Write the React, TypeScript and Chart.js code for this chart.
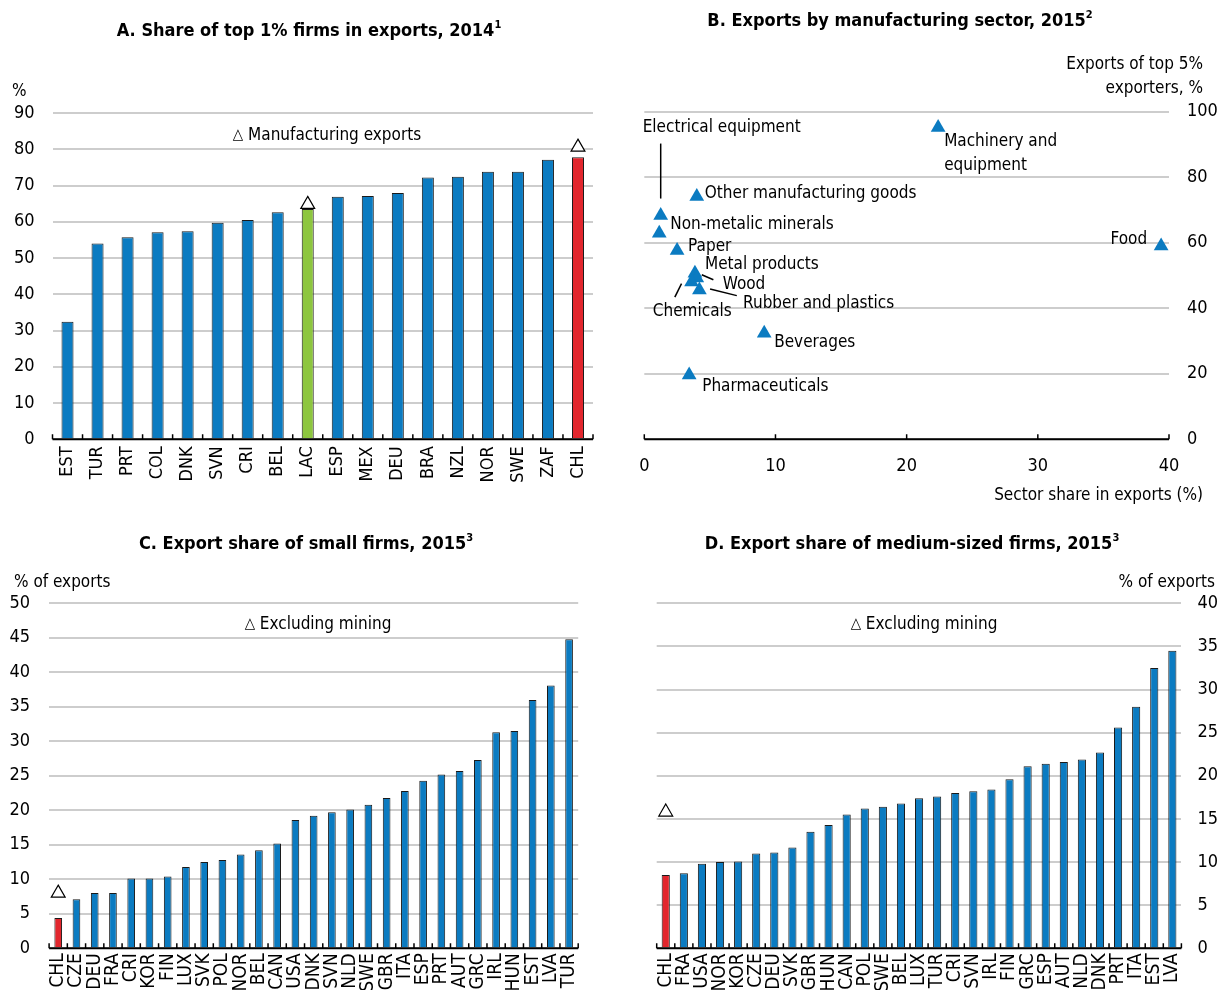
import React, { useEffect, useRef } from "react";
import { Chart, registerables } from "chart.js";

Chart.register(...registerables);

const FONT =
  "'Liberation Sans Narrow', 'Arial Narrow', 'DejaVu Sans Condensed', 'Liberation Sans', Arial, sans-serif";

const BLUE = "#0B7BC1";
const RED = "#E2262D";
const GREEN = "#8DC63F";
const GRID = "#cdcdcd";

// A. Share of top 1% firms in exports, 2014
const countriesA = ["EST", "TUR", "PRT", "COL", "DNK", "SVN", "CRI", "BEL", "LAC", "ESP", "MEX", "DEU", "BRA", "NZL", "NOR", "SWE", "ZAF", "CHL"];
const top1ShareA = [32.4, 54.0, 55.7, 57.1, 57.4, 59.7, 60.5, 62.6, 63.5, 66.9, 67.1, 67.9, 72.2, 72.4, 73.8, 73.8, 77.1, 77.8];
const manufTop1A: (number | null)[] = [null, null, null, null, null, null, null, null, 64.8, null, null, null, null, null, null, null, null, 80.6];

// B. Exports by manufacturing sector, 2015
const sectorsB = [
  "Machinery and equipment",
  "Electrical equipment",
  "Other manufacturing goods",
  "Non-metalic minerals",
  "Paper",
  "Metal products",
  "Wood",
  "Chemicals",
  "Rubber and plastics",
  "Beverages",
  "Pharmaceuticals",
  "Food",
];
const sectorShareB = [22.4, 1.25, 4.0, 1.14, 2.5, 3.86, 4.0, 3.6, 4.2, 9.14, 3.42, 39.4];
const top5ShareB = [95.2, 68.3, 74.1, 62.9, 57.6, 50.7, 49.2, 48.0, 45.6, 32.4, 19.6, 59.0];

// C. Export share of small firms, 2015
const countriesC = ["CHL", "CZE", "DEU", "FRA", "CRI", "KOR", "FIN", "LUX", "SVK", "POL", "NOR", "BEL", "CAN", "USA", "DNK", "SVN", "NLD", "SWE", "GBR", "ITA", "ESP", "PRT", "AUT", "GRC", "IRL", "HUN", "EST", "LVA", "TUR"];
const smallShareC = [4.4, 7.1, 8.0, 8.0, 10.1, 10.1, 10.4, 11.8, 12.5, 12.8, 13.6, 14.2, 15.2, 18.6, 19.2, 19.7, 20.1, 20.8, 21.8, 22.8, 24.3, 25.2, 25.7, 27.3, 31.3, 31.5, 36.0, 38.1, 44.8];
const exMiningC: (number | null)[] = [8.0, ...Array(28).fill(null)];

// D. Export share of medium-sized firms, 2015
const countriesD = ["CHL", "FRA", "USA", "NOR", "KOR", "CZE", "DEU", "SVK", "GBR", "HUN", "CAN", "POL", "SWE", "BEL", "LUX", "TUR", "CRI", "SVN", "IRL", "FIN", "GRC", "ESP", "AUT", "NLD", "DNK", "PRT", "ITA", "EST", "LVA"];
const mediumShareD = [8.5, 8.7, 9.8, 10.0, 10.05, 11.0, 11.1, 11.7, 13.5, 14.3, 15.5, 16.2, 16.4, 16.8, 17.4, 17.6, 18.0, 18.2, 18.4, 19.6, 21.1, 21.4, 21.6, 21.9, 22.7, 25.6, 28.0, 32.5, 34.5];
const exMiningD: (number | null)[] = [15.8, ...Array(28).fill(null)];

// Label placement for the sector scatter (pixel offsets from each marker)
type LabelStyle = {
  dx: number;
  dy: number;
  align?: "left" | "right";
  wrap?: number;
  leader?: [number, number, number, number];
};
const sectorLabelStyle: Record<string, LabelStyle> = {
  "Machinery and equipment": { dx: 6, dy: 14, wrap: 120 },
  "Electrical equipment": { dx: -18, dy: -88, leader: [0, -17, 0, -72] },
  "Other manufacturing goods": { dx: 8, dy: -3 },
  "Non-metalic minerals": { dx: 11, dy: -9 },
  Paper: { dx: 11, dy: -4 },
  "Metal products": { dx: 10, dy: -9 },
  Wood: { dx: 26, dy: 6, leader: [5, -3.4, 16.6, 1.6] },
  Chemicals: { dx: -38.7, dy: 30, leader: [-10, 1.6, -16.7, 15] },
  "Rubber and plastics": { dx: 43.7, dy: 13.4, leader: [10.7, -1, 37.4, 5.7] },
  Beverages: { dx: 10, dy: 9 },
  Pharmaceuticals: { dx: 13, dy: 11 },
  Food: { dx: -14, dy: -6, align: "right" },
};

type Area = { left: number; right: number; top: number; bottom: number };

// Baseline with short inward tick marks (category boundaries or numeric ticks)
const axisTicksPlugin = {
  id: "axisTicks",
  afterDatasetsDraw(chart: any) {
    const { ctx, chartArea } = chart;
    const x = chart.scales.x;
    const positions: number[] = [];
    if (x.type === "category") {
      const n = x.getLabels().length;
      for (let i = 0; i <= n; i++) positions.push(x.getPixelForValue(i - 0.5));
    } else {
      x.ticks.forEach((t: any) => positions.push(x.getPixelForValue(t.value)));
    }
    ctx.save();
    ctx.strokeStyle = "#000";
    ctx.lineWidth = 1.5;
    ctx.beginPath();
    positions.forEach((p) => {
      ctx.moveTo(p, chartArea.bottom);
      ctx.lineTo(p, chartArea.bottom - 5);
    });
    ctx.stroke();
    ctx.lineWidth = 2;
    ctx.beginPath();
    ctx.moveTo(chartArea.left, chartArea.bottom);
    ctx.lineTo(chartArea.right, chartArea.bottom);
    ctx.stroke();
    ctx.restore();
  },
};

function wrapText(ctx: CanvasRenderingContext2D, text: string, maxWidth?: number) {
  if (!maxWidth) return [text];
  const words = text.split(" ");
  const lines: string[] = [];
  let cur = "";
  words.forEach((w) => {
    const next = cur ? cur + " " + w : w;
    if (cur && ctx.measureText(next).width > maxWidth) {
      lines.push(cur);
      cur = w;
    } else cur = next;
  });
  if (cur) lines.push(cur);
  return lines;
}

const sectorLabelPlugin = {
  id: "sectorLabels",
  afterDatasetsDraw(chart: any) {
    const { ctx } = chart;
    const meta = chart.getDatasetMeta(0);
    ctx.save();
    ctx.font = `17px ${FONT}`;
    ctx.fillStyle = "#000";
    ctx.strokeStyle = "#000";
    ctx.lineWidth = 1.5;
    ctx.textBaseline = "middle";
    meta.data.forEach((pt: any, i: number) => {
      const name = sectorsB[i];
      const st = sectorLabelStyle[name];
      if (!st) return;
      ctx.textAlign = st.align || "left";
      const lines = wrapText(ctx, name, st.wrap);
      lines.forEach((ln, k) => ctx.fillText(ln, pt.x + st.dx, pt.y + st.dy + k * 24));
      if (st.leader) {
        const [x1, y1, x2, y2] = st.leader;
        ctx.beginPath();
        ctx.moveTo(pt.x + x1, pt.y + y1);
        ctx.lineTo(pt.x + x2, pt.y + y2);
        ctx.stroke();
      }
    });
    ctx.restore();
  },
};

function barConfig(opts: {
  labels: string[];
  values: number[];
  markers: (number | null)[];
  colors: string[];
  max: number;
  step: number;
  yRight: boolean;
  area: Area;
  W: number;
  H: number;
  barPct: number;
  xPad: number;
  yPad: number;
  xFont: number;
}) {
  const { area, W, H, yRight } = opts;
  const padding = yRight
    ? { left: area.left, top: area.top, right: 0, bottom: 0 }
    : { left: 0, top: area.top, right: W - area.right, bottom: 0 };
  const yWidth = yRight ? W - area.right : area.left;
  const xHeight = H - area.bottom;
  return {
    type: "bar" as const,
    data: {
      labels: opts.labels,
      datasets: [
        {
          type: "line" as const,
          data: opts.markers,
          showLine: false,
          pointStyle: "triangle",
          pointRadius: 8,
          pointBackgroundColor: "#fff",
          pointBorderColor: "#000",
          pointBorderWidth: 1.2,
          order: 0,
        },
        {
          type: "bar" as const,
          data: opts.values,
          backgroundColor: opts.colors,
          borderColor: "#1a1a1a",
          borderWidth: 1,
          barPercentage: opts.barPct,
          categoryPercentage: 1,
          order: 1,
        },
      ],
    },
    options: {
      responsive: false,
      animation: false as const,
      layout: { padding },
      plugins: { legend: { display: false }, tooltip: { enabled: false } },
      scales: {
        x: {
          type: "category" as const,
          offset: true,
          grid: { display: false, drawTicks: false },
          border: { display: false },
          ticks: {
            autoSkip: false,
            maxRotation: 90,
            minRotation: 90,
            padding: opts.xPad,
            color: "#000",
            font: { size: opts.xFont, family: FONT },
          },
          afterFit: (s: any) => {
            s.height = xHeight;
          },
        },
        y: {
          position: yRight ? ("right" as const) : ("left" as const),
          min: 0,
          max: opts.max,
          ticks: { stepSize: opts.step, padding: opts.yPad, color: "#000", font: { size: 18, family: FONT } },
          grid: { color: GRID, lineWidth: 2, drawTicks: false },
          border: { display: false },
          afterFit: (s: any) => {
            s.width = yWidth;
          },
        },
      },
    },
    plugins: [axisTicksPlugin],
  };
}

function scatterConfig(area: Area, W: number, H: number) {
  return {
    type: "scatter" as const,
    data: {
      datasets: [
        {
          data: sectorShareB.map((x, i) => ({ x, y: top5ShareB[i] })),
          pointStyle: "triangle",
          pointRadius: 8.5,
          pointBackgroundColor: BLUE,
          pointBorderColor: BLUE,
          pointBorderWidth: 0,
        },
      ],
    },
    options: {
      responsive: false,
      animation: false as const,
      layout: { padding: { left: area.left, top: area.top, right: 0, bottom: 0 } },
      plugins: { legend: { display: false }, tooltip: { enabled: false } },
      scales: {
        x: {
          type: "linear" as const,
          min: 0,
          max: 40,
          grid: { display: false, drawTicks: false },
          border: { display: false },
          ticks: { stepSize: 10, padding: 16, color: "#000", font: { size: 18, family: FONT } },
          afterFit: (s: any) => {
            s.height = H - area.bottom;
          },
        },
        y: {
          type: "linear" as const,
          position: "right" as const,
          min: 0,
          max: 100,
          grid: { color: GRID, lineWidth: 2, drawTicks: false },
          border: { display: false },
          ticks: { stepSize: 20, padding: 18, color: "#000", font: { size: 18, family: FONT } },
          afterFit: (s: any) => {
            s.width = W - area.right;
          },
        },
      },
    },
    plugins: [axisTicksPlugin, sectorLabelPlugin],
  };
}

function ChartCanvas({ left, top, width, height, build }: { left: number; top: number; width: number; height: number; build: () => any }) {
  const ref = useRef<HTMLCanvasElement | null>(null);
  useEffect(() => {
    if (!ref.current) return;
    const chart = new Chart(ref.current, build());
    return () => chart.destroy();
  }, []);
  return (
    <canvas
      ref={ref}
      width={width}
      height={height}
      style={{ position: "absolute", left, top, width, height }}
    />
  );
}

function Text({
  x,
  y,
  align = "left",
  bold = false,
  size = 17,
  children,
}: {
  x: number;
  y: number;
  align?: "left" | "center" | "right";
  bold?: boolean;
  size?: number;
  children: React.ReactNode;
}) {
  const tx = align === "left" ? "0" : align === "center" ? "-50%" : "-100%";
  return (
    <div
      style={{
        position: "absolute",
        left: x,
        top: y,
        transform: `translate(${tx}, -50%)`,
        whiteSpace: "nowrap",
        fontFamily: FONT,
        fontSize: size,
        fontWeight: bold ? 700 : 400,
        lineHeight: 1.2,
        color: "#000",
        textAlign: align,
      }}
    >
      {children}
    </div>
  );
}

const Sup = ({ children }: { children: React.ReactNode }) => (
  <sup style={{ fontSize: 11, verticalAlign: "top", position: "relative", top: -1 }}>{children}</sup>
);

const Tri = () => <span style={{ fontSize: 15, position: "relative", top: -1 }}>△</span>;

const colorsFor = (labels: string[]) =>
  labels.map((c) => (c === "CHL" ? RED : c === "LAC" ? GREEN : BLUE));

export default function App() {
  return (
    <div style={{ position: "absolute", left: 0, top: 0, width: 1221, height: 990, background: "#fff", overflow: "hidden" }}>
      <ChartCanvas
        left={0}
        top={0}
        width={610}
        height={500}
        build={() =>
          barConfig({
            labels: countriesA,
            values: top1ShareA,
            markers: manufTop1A,
            colors: colorsFor(countriesA),
            max: 90,
            step: 10,
            yRight: false,
            area: { left: 52.5, right: 593, top: 113, bottom: 439.3 },
            W: 610,
            H: 500,
            barPct: 0.4,
            xPad: 7,
            yPad: 18,
            xFont: 18,
          })
        }
      />
      <ChartCanvas
        left={610}
        top={0}
        width={611}
        height={510}
        build={() => scatterConfig({ left: 34.3, right: 559, top: 111.7, bottom: 439.3 }, 611, 510)}
      />
      <ChartCanvas
        left={0}
        top={510}
        width={610}
        height={480}
        build={() =>
          barConfig({
            labels: countriesC,
            values: smallShareC,
            markers: exMiningC,
            colors: colorsFor(countriesC),
            max: 50,
            step: 5,
            yRight: false,
            area: { left: 49.1, right: 578.2, top: 93.3, bottom: 438.3 },
            W: 610,
            H: 480,
            barPct: 0.42,
            xPad: 5,
            yPad: 19,
            xFont: 19,
          })
        }
      />
      <ChartCanvas
        left={610}
        top={510}
        width={611}
        height={480}
        build={() =>
          barConfig({
            labels: countriesD,
            values: mediumShareD,
            markers: exMiningD,
            colors: colorsFor(countriesD),
            max: 40,
            step: 5,
            yRight: true,
            area: { left: 46.7, right: 571.4, top: 93.3, bottom: 438.3 },
            W: 611,
            H: 480,
            barPct: 0.45,
            xPad: 5,
            yPad: 16,
            xFont: 19,
          })
        }
      />

      <Text x={309} y={30} align="center" bold size={18}>
        A. Share of top 1% firms in exports, 2014<Sup>1</Sup>
      </Text>
      <Text x={900} y={20} align="center" bold size={18}>
        B. Exports by manufacturing sector, 2015<Sup>2</Sup>
      </Text>
      <Text x={306} y={543} align="center" bold size={18}>
        C. Export share of small firms, 2015<Sup>3</Sup>
      </Text>
      <Text x={912} y={543} align="center" bold size={18}>
        D. Export share of medium-sized firms, 2015<Sup>3</Sup>
      </Text>

      <Text x={12} y={90}>%</Text>
      <Text x={327} y={134} align="center">
        <Tri /> Manufacturing exports
      </Text>

      <Text x={1203} y={63} align="right">Exports of top 5%</Text>
      <Text x={1203} y={87} align="right">exporters, %</Text>
      <Text x={1203} y={494} align="right">Sector share in exports (%)</Text>

      <Text x={14} y={581}>% of exports</Text>
      <Text x={318} y={623} align="center">
        <Tri /> Excluding mining
      </Text>

      <Text x={1215} y={581} align="right">% of exports</Text>
      <Text x={924} y={623} align="center">
        <Tri /> Excluding mining
      </Text>
    </div>
  );
}
